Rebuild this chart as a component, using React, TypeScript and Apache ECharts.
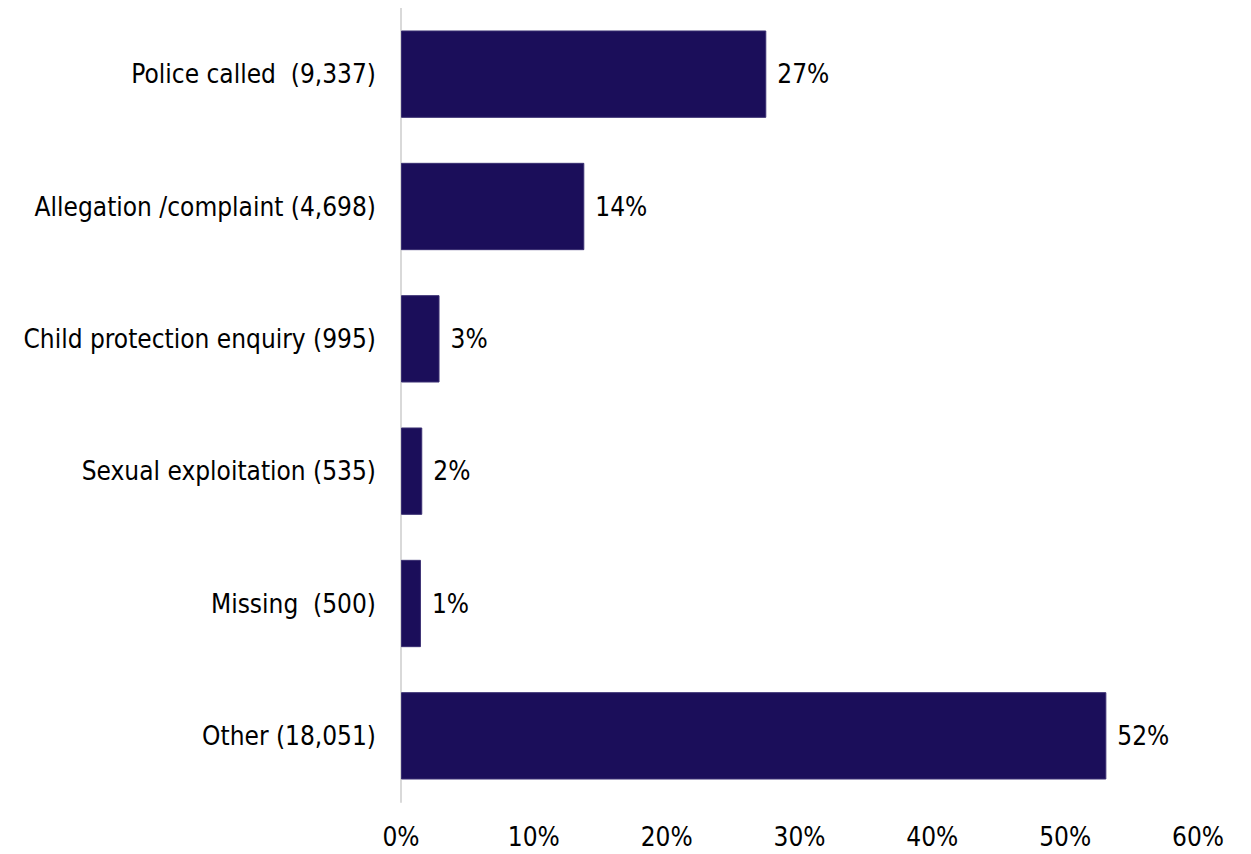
import React, { useEffect, useRef } from "react";
import * as echarts from "echarts";

const categories = [
  "Police called  (9,337)",
  "Allegation /complaint (4,698)",
  "Child protection enquiry (995)",
  "Sexual exploitation (535)",
  "Missing  (500)",
  "Other (18,051)",
];
const values = [27.5, 13.8, 2.9, 1.6, 1.5, 53.1];
const valueLabels = ["27%", "14%", "3%", "2%", "1%", "52%"];
const FONT = "'DejaVu Sans Condensed', 'DejaVu Sans', sans-serif";

export default function App() {
  const ref = useRef<HTMLDivElement>(null);
  useEffect(() => {
    const chart = echarts.init(ref.current!, null, { renderer: "svg" });
    chart.setOption({
      animation: false,
      grid: { left: 401, right: 53, top: 8, bottom: 52, containLabel: false },
      xAxis: {
        type: "value",
        min: 0,
        max: 60,
        interval: 10,
        axisLine: { show: false },
        axisTick: { show: false },
        splitLine: { show: false },
        axisLabel: {
          formatter: (v: number) => v + "%",
          fontFamily: FONT,
          fontSize: 26,
          color: "#000",
          margin: 22,
        },
      },
      yAxis: {
        type: "category",
        inverse: true,
        data: categories,
        axisLine: { show: true, lineStyle: { color: "#d9d9d9", width: 2 } },
        axisTick: { show: false },
        axisLabel: {
          fontFamily: FONT,
          fontSize: 26,
          color: "#000",
          margin: 25,
        },
      },
      series: [
        {
          type: "bar",
          data: values,
          barWidth: "66%",
          itemStyle: { color: "#1b0e5a", borderColor: "#3a2f72", borderWidth: 1 },
          label: {
            show: true,
            position: "right",
            distance: 11,
            fontFamily: FONT,
            fontSize: 26,
            color: "#000",
            formatter: (p: any) => valueLabels[p.dataIndex],
          },
        },
      ],
    });
    return () => chart.dispose();
  }, []);
  return <div ref={ref} style={{ width: 1251, height: 854, margin: -8 }} />;
}
